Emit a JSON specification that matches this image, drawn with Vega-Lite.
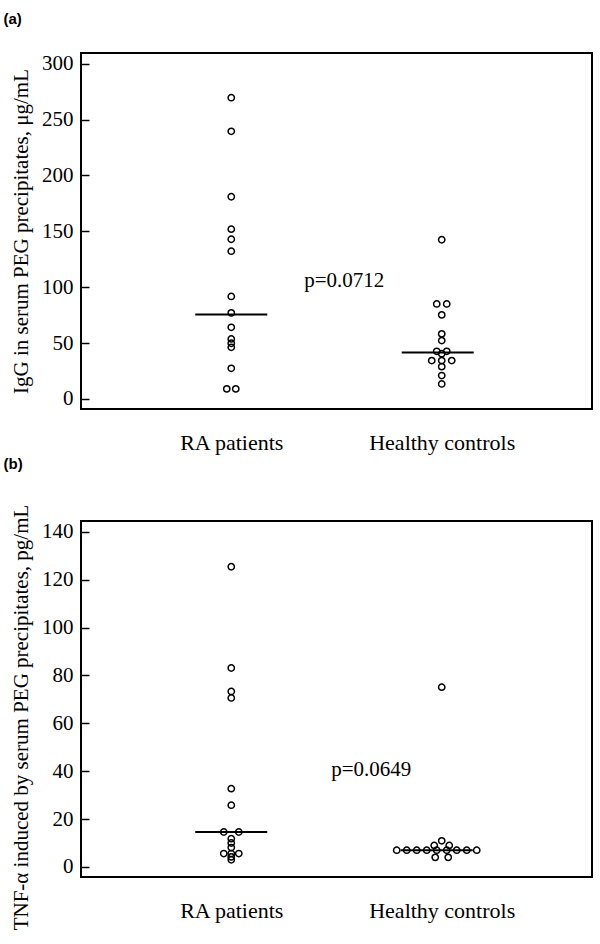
{
  "$schema": "https://vega.github.io/schema/vega-lite/v6.json",
  "background": "white",
  "padding": {"left": 2, "top": 10, "right": 5, "bottom": 5},
  "spacing": 2,
  "config": {
    "view": {"stroke": "black", "strokeWidth": 2},
    "font": "Liberation Serif",
    "title": {"font": "Liberation Sans", "fontWeight": "bold", "fontSize": 15, "anchor": "start", "frame": "bounds", "color": "black"},
    "axisY": {"domain": false, "grid": false, "tickSize": -8, "tickWidth": 1.5, "tickColor": "black", "labelPadding": 16, "labelFont": "Liberation Serif", "labelFontSize": 21, "labelColor": "black", "titleFont": "Liberation Serif", "titleFontSize": 21, "titleFontWeight": "normal", "titleColor": "black", "titlePadding": 10},
    "axisX": {"domain": false, "grid": false, "ticks": false, "labelPadding": 23, "labelFont": "Liberation Serif", "labelFontSize": 22, "labelColor": "black", "labelAngle": 0, "labelOverlap": false}
  },
  "datasets": {
    "aPoints": [
      {"group": "RA patients", "value": 269.5, "slot": 0},
      {"group": "RA patients", "value": 239.4, "slot": 0},
      {"group": "RA patients", "value": 180.9, "slot": 0},
      {"group": "RA patients", "value": 151.9, "slot": 0},
      {"group": "RA patients", "value": 142.9, "slot": 0},
      {"group": "RA patients", "value": 132.2, "slot": 0},
      {"group": "RA patients", "value": 91.7, "slot": 0},
      {"group": "RA patients", "value": 77, "slot": 0},
      {"group": "RA patients", "value": 64.1, "slot": 0},
      {"group": "RA patients", "value": 53.7, "slot": 0},
      {"group": "RA patients", "value": 49.8, "slot": 0},
      {"group": "RA patients", "value": 46.2, "slot": 0},
      {"group": "RA patients", "value": 27.4, "slot": 0},
      {"group": "RA patients", "value": 9, "slot": -0.45},
      {"group": "RA patients", "value": 9, "slot": 0.45},
      {"group": "Healthy controls", "value": 142.4, "slot": 0},
      {"group": "Healthy controls", "value": 85, "slot": -0.5},
      {"group": "Healthy controls", "value": 85, "slot": 0.5},
      {"group": "Healthy controls", "value": 75.2, "slot": 0},
      {"group": "Healthy controls", "value": 58.2, "slot": 0},
      {"group": "Healthy controls", "value": 52.2, "slot": 0},
      {"group": "Healthy controls", "value": 42.6, "slot": -0.5},
      {"group": "Healthy controls", "value": 42.6, "slot": 0.5},
      {"group": "Healthy controls", "value": 40.5, "slot": 0},
      {"group": "Healthy controls", "value": 34.3, "slot": -1},
      {"group": "Healthy controls", "value": 34.3, "slot": 0},
      {"group": "Healthy controls", "value": 34.3, "slot": 1},
      {"group": "Healthy controls", "value": 28.9, "slot": 0},
      {"group": "Healthy controls", "value": 20.9, "slot": 0},
      {"group": "Healthy controls", "value": 13.4, "slot": 0}
    ],
    "aMedians": [
      {"group": "RA patients", "value": 75.5, "slot": 0},
      {"group": "Healthy controls", "value": 41.5, "slot": -0.4}
    ],
    "aText": [
      {"group": "RA patients", "value": 100.5, "slot": 11.3, "label": "p=0.0712"}
    ],
    "bPoints": [
      {"group": "RA patients", "value": 125.4, "slot": 0},
      {"group": "RA patients", "value": 83.1, "slot": 0},
      {"group": "RA patients", "value": 73.3, "slot": 0},
      {"group": "RA patients", "value": 70.6, "slot": 0},
      {"group": "RA patients", "value": 32.7, "slot": 0},
      {"group": "RA patients", "value": 25.8, "slot": 0},
      {"group": "RA patients", "value": 14.6, "slot": -0.75},
      {"group": "RA patients", "value": 14.6, "slot": 0.75},
      {"group": "RA patients", "value": 11.8, "slot": 0},
      {"group": "RA patients", "value": 10, "slot": 0},
      {"group": "RA patients", "value": 8.1, "slot": 0},
      {"group": "RA patients", "value": 5.6, "slot": -0.75},
      {"group": "RA patients", "value": 5.6, "slot": 0},
      {"group": "RA patients", "value": 5.6, "slot": 0.75},
      {"group": "RA patients", "value": 4.2, "slot": 0},
      {"group": "RA patients", "value": 3, "slot": 0},
      {"group": "Healthy controls", "value": 75.1, "slot": 0},
      {"group": "Healthy controls", "value": 10.9, "slot": 0},
      {"group": "Healthy controls", "value": 9, "slot": -0.75},
      {"group": "Healthy controls", "value": 9, "slot": 0.75},
      {"group": "Healthy controls", "value": 7, "slot": -4.5},
      {"group": "Healthy controls", "value": 7, "slot": -3.5},
      {"group": "Healthy controls", "value": 7, "slot": -2.5},
      {"group": "Healthy controls", "value": 7, "slot": -1.5},
      {"group": "Healthy controls", "value": 7, "slot": -0.5},
      {"group": "Healthy controls", "value": 7, "slot": 0.5},
      {"group": "Healthy controls", "value": 7, "slot": 1.5},
      {"group": "Healthy controls", "value": 7, "slot": 2.5},
      {"group": "Healthy controls", "value": 7, "slot": 3.5},
      {"group": "Healthy controls", "value": 4, "slot": -0.65},
      {"group": "Healthy controls", "value": 4, "slot": 0.65}
    ],
    "bMedians": [
      {"group": "RA patients", "value": 14.6, "slot": 0},
      {"group": "Healthy controls", "value": 7, "slot": -0.5}
    ],
    "bText": [
      {"group": "RA patients", "value": 38.1, "slot": 14, "label": "p=0.0649"}
    ]
  },
  "vconcat": [
    {
      "width": 511,
      "height": 356,
      "title": {"text": "(a)", "offset": 26, "dx": -7},
      "encoding": {
        "x": {"field": "group", "type": "nominal", "sort": null, "title": null, "scale": {"type": "point", "domain": ["RA patients", "Healthy controls"], "padding": 0.714}},
        "xOffset": {"field": "slot", "type": "quantitative", "scale": {"domain": [-10, 10], "range": [-100, 100]}},
        "y": {"field": "value", "type": "quantitative", "scale": {"domain": [-9, 309.5], "nice": false, "zero": false}, "axis": {"values": [0, 50, 100, 150, 200, 250, 300], "title": "IgG in serum PEG precipitates, μg/mL"}}
      },
      "layer": [
        {"data": {"name": "aPoints"}, "mark": {"type": "point", "shape": "circle", "filled": false, "size": 40, "stroke": "black", "strokeWidth": 1.5, "opacity": 1}},
        {"data": {"name": "aMedians"}, "mark": {"type": "tick", "orient": "horizontal", "size": 72, "thickness": 2, "color": "black", "opacity": 1}},
        {"data": {"name": "aText"}, "mark": {"type": "text", "font": "Liberation Serif", "fontSize": 21, "baseline": "alphabetic", "align": "center", "color": "black"}, "encoding": {"text": {"field": "label"}}}
      ]
    },
    {
      "width": 511,
      "height": 356,
      "title": {"text": "(b)", "offset": 32, "dx": -7},
      "encoding": {
        "x": {"field": "group", "type": "nominal", "sort": null, "title": null, "scale": {"type": "point", "domain": ["RA patients", "Healthy controls"], "padding": 0.714}},
        "xOffset": {"field": "slot", "type": "quantitative", "scale": {"domain": [-10, 10], "range": [-77.5, 77.5]}},
        "y": {"field": "value", "type": "quantitative", "scale": {"domain": [-4.2, 144.5], "nice": false, "zero": false}, "axis": {"values": [0, 20, 40, 60, 80, 100, 120, 140], "title": "TNF-α induced by serum PEG precipitates, pg/mL", "titleY": 196}}
      },
      "layer": [
        {"data": {"name": "bPoints"}, "mark": {"type": "point", "shape": "circle", "filled": false, "size": 40, "stroke": "black", "strokeWidth": 1.5, "opacity": 1}},
        {"data": {"name": "bMedians"}, "mark": {"type": "tick", "orient": "horizontal", "size": 72, "thickness": 2, "color": "black", "opacity": 1}},
        {"data": {"name": "bText"}, "mark": {"type": "text", "font": "Liberation Serif", "fontSize": 21, "baseline": "alphabetic", "align": "center", "color": "black"}, "encoding": {"text": {"field": "label"}}}
      ]
    }
  ]
}
